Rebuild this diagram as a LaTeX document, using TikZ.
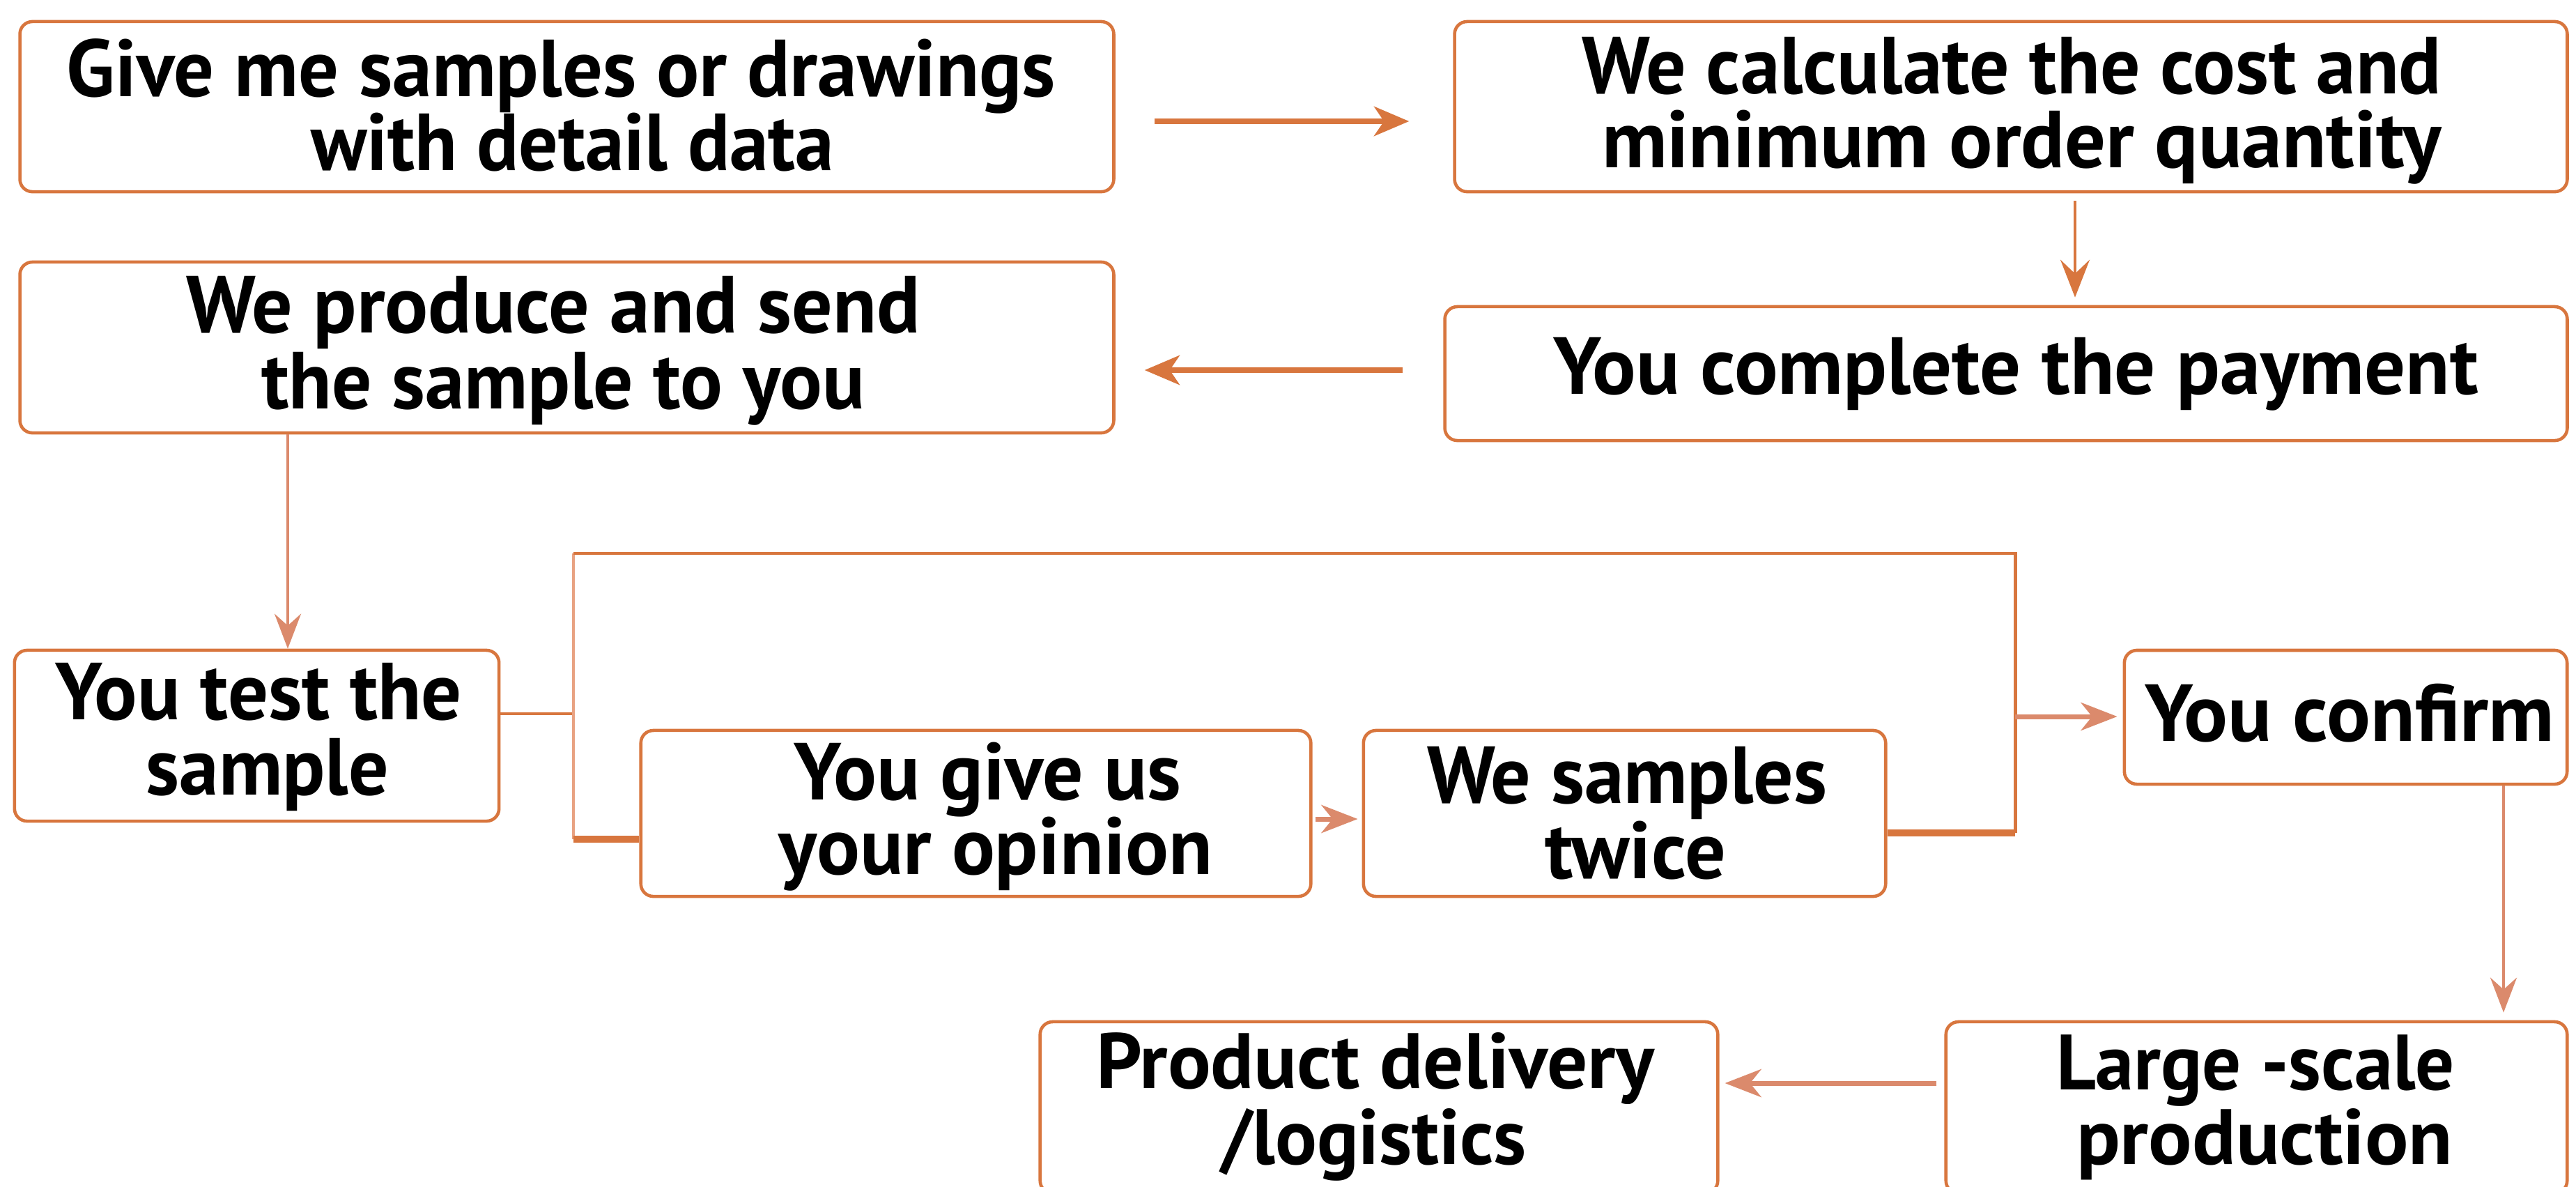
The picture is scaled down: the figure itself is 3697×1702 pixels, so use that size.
\documentclass[tikz,border=0pt]{standalone}
\usepackage{fontspec}
\setmainfont{PT Sans}
\usepackage{graphicx}
\usetikzlibrary{arrows.meta,calc}
\newlength\pxu
\setlength\pxu{0.01cm}
\newcommand\fitline[2]{\resizebox{#1\pxu}{\height}{#2}}
\definecolor{orng}{RGB}{216,118,62}
\definecolor{salm}{RGB}{219,138,108}
\definecolor{lsalm}{RGB}{232,162,130}
\begin{document}
\begin{tikzpicture}[x=0.01cm,y=-0.01cm,
  box/.style={draw=orng, line width=1.3pt, rounded corners=0.18cm, inner sep=0pt, fill=white},
  txt/.style={inner sep=0pt, anchor=base, font=\bfseries\fontsize{33pt}{36pt}\selectfont, text=black},
  btxt/.style={txt, font=\bfseries\fontsize{32pt}{35pt}\selectfont},
  bigarrow/.style={draw=orng, line width=2.3pt, -{Stealth[length=0.5cm,width=0.42cm,inset=0.14cm]}},
  thinarrow/.style={draw=orng, line width=1.15pt, -{Stealth[length=0.54cm,width=0.42cm,inset=0.2cm]}},
  salarrow/.style={draw=salm, line width=1.15pt, -{Stealth[length=0.5cm,width=0.38cm,inset=0.17cm]}},
  medarrow/.style={draw=salm, line width=2pt, -{Stealth[length=0.52cm,width=0.4cm,inset=0.16cm]}},
  loopline/.style={draw=orng, line width=1.4pt},
  loopthin/.style={draw=lsalm, line width=0.9pt},
  loopthick/.style={draw=orng, line width=2.85pt}
]
\clip (0,0) rectangle (3697,1702);
\fill[white] (0,0) rectangle (3697,1702);

% boxes
\node[box, minimum width=15.69cm, minimum height=2.44cm] (B1) at (813.5,153) {};
\node[box, minimum width=15.96cm, minimum height=2.44cm] (B2) at (2886,153) {};
\node[box, minimum width=15.69cm, minimum height=2.45cm] (B3) at (813.5,498.5) {};
\node[box, minimum width=16.10cm, minimum height=1.92cm] (B4) at (2879,536) {};
\node[box, minimum width=6.95cm, minimum height=2.45cm] (B5) at (368.5,1055.5) {};
\node[box, minimum width=9.61cm, minimum height=2.38cm] (B6) at (1400.5,1167) {};
\node[box, minimum width=7.49cm, minimum height=2.38cm] (B7) at (2331.5,1167) {};
\node[box, minimum width=6.35cm, minimum height=1.92cm] (B8) at (3366.5,1029) {};
\node[box, minimum width=8.91cm, minimum height=2.46cm] (B9) at (3238.5,1589) {};
\node[box, minimum width=9.72cm, minimum height=2.46cm] (B10) at (1979,1589) {};

% texts
\node[txt] (t1a) at (805.5,138) {\fitline{1419}{Give me samples or drawings}};
\node[txt] (t1b) at (821.5,244) {\fitline{751}{with detail data}};
\node[txt] (t2a) at (2887.5,134) {\fitline{1233}{We calculate the cost and}};
\node[txt] (t2b) at (2901.5,240) {\fitline{1205}{minimum order quantity}};
\node[txt] (t3a) at (794.5,477) {\fitline{1053}{We produce and send}};
\node[txt] (t3b) at (808,586) {\fitline{866}{the sample to you}};
\node[txt] (t4) at (2893,565) {\fitline{1328}{You complete the payment}};
\node[txt] (t5a) at (371.5,1032) {\fitline{583}{You test the}};
\node[txt] (t5b) at (384,1140) {\fitline{348}{sample}};
\node[txt] (t6a) at (1417.5,1147) {\fitline{555}{You give us}};
\node[txt] (t6b) at (1429,1254) {\fitline{622}{your opinion}};
\node[txt] (t7a) at (2335,1152) {\fitline{574}{We samples}};
\node[txt] (t7b) at (2347,1260) {\fitline{260}{twice}};
\node[txt] (t8) at (3372,1063) {\fitline{588}{You confirm}};
\node[btxt] (t9a) at (3237,1563) {\fitline{572}{Large -scale}};
\node[btxt] (t9b) at (3250,1670) {\fitline{540}{production}};
\node[btxt] (t10a) at (1973.5,1561) {\fitline{801}{Product delivery}};
\node[btxt] (t10b) at (1971.5,1670) {\fitline{439}{/logistics}};

% connectors
\draw[bigarrow] ([shift={(56,21)}]B1.east) -- ([shift={(-63,21)}]B2.west);
\draw[thinarrow] ([shift={(92,11)}]B2.south) -- ([shift={(99,-11)}]B4.north);
\draw[bigarrow] ([shift={(-58,-5)}]B4.west) -- ([shift={(42,32.5)}]B3.east);
\draw[salarrow] ([shift={(-400.5,0)}]B3.south) -- ([shift={(44.5,0)}]B5.north);

% feedback loop
\coordinate (J) at (823,1024);
\coordinate (L1) at (823,794);
\coordinate (L2) at (823,1204);
\coordinate (R1) at (2892,794);
\coordinate (R2) at (2892,1195);
\coordinate (J2) at (2892,1028);
\draw[loopline] ([shift={(0,-31.5)}]B5.east) -- (J);
\draw[loopthin] (L1) -- (L2);
\draw[loopline] (L1) -- (R1) -- (R2);
\draw[loopthick] (L2) -- (L2 -| B6.west);
\draw[loopthick] (R2 -| B7.east) -- (R2);
\draw[medarrow, shorten >=0.08cm] (J2) -- (J2 -| B8.west);
\draw[medarrow] ([shift={(4,8)}]B6.east) -- ([shift={(-6,8)}]B7.west);

\draw[salarrow] ([shift={(226.5,0)}]B8.south) -- ([shift={(354.5,-11)}]B9.north);
\draw[medarrow] ([shift={(-11,-35)}]B9.west) -- ([shift={(8,-35)}]B10.east);
\end{tikzpicture}
\end{document}
